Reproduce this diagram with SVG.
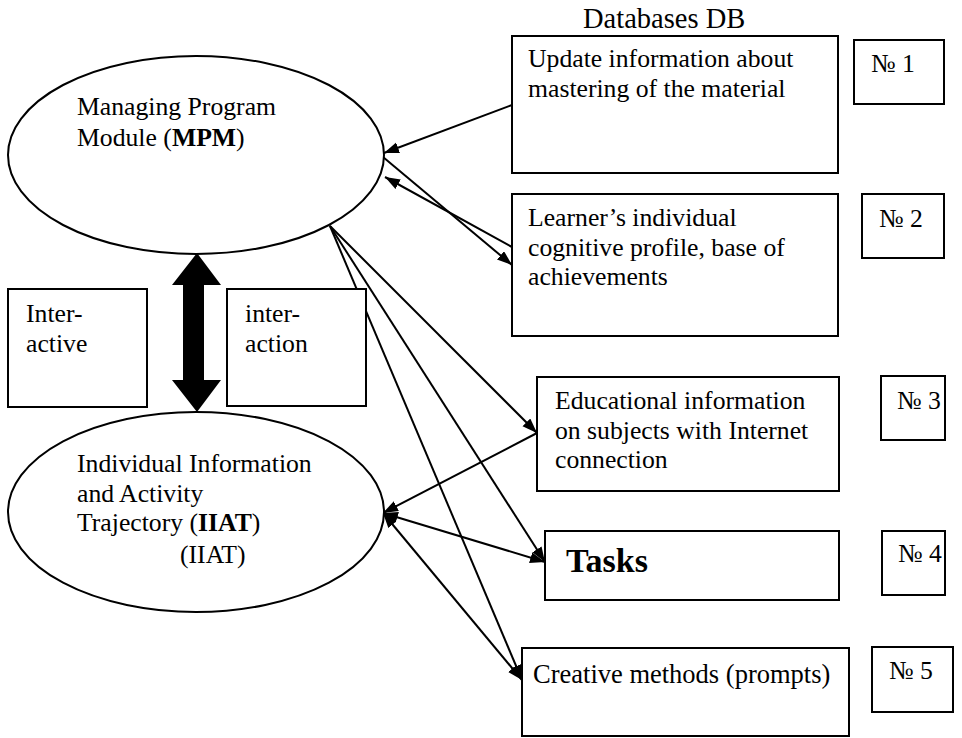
<svg xmlns="http://www.w3.org/2000/svg" width="962" height="738" viewBox="0 0 962 738">
<defs>
<style>
text{font-family:"Liberation Serif","Times New Roman",serif;font-size:25.7px;fill:#000}
.b{font-weight:bold}
.node{fill:#fff;stroke:#000;stroke-width:2}
.ln{stroke:#000;stroke-width:2;fill:none}
</style>
<marker id="ah" markerUnits="userSpaceOnUse" markerWidth="16" markerHeight="12" refX="15" refY="5.5" orient="auto-start-reverse">
<path d="M0,0 L15,5.5 L0,11 z" fill="#000"/>
</marker>
</defs>
<rect width="962" height="738" fill="#fff"/>
<g id="connectors">
<line class="ln" x1="512" y1="105" x2="384" y2="153" marker-end="url(#ah)"/>
<line class="ln" x1="383" y1="157" x2="512" y2="265" marker-end="url(#ah)"/>
<line class="ln" x1="512" y1="247" x2="385" y2="177" marker-end="url(#ah)"/>
<line class="ln" x1="330" y1="226" x2="537" y2="433" marker-end="url(#ah)"/>
<line class="ln" x1="330" y1="226" x2="545" y2="562" marker-end="url(#ah)"/>
<line class="ln" x1="330" y1="226" x2="522" y2="680" marker-end="url(#ah)"/>
<line class="ln" x1="537" y1="433" x2="383" y2="513" marker-end="url(#ah)"/>
<line class="ln" x1="383" y1="513" x2="545" y2="562" marker-start="url(#ah)" marker-end="url(#ah)"/>
<line class="ln" x1="383" y1="513" x2="522" y2="680" marker-start="url(#ah)" marker-end="url(#ah)"/>
<polygon id="interaction-arrow" points="197,253 221,285 204,285 204,380 221,380 197,412 172,380 183,380 183,285 172,285" fill="#000"/>
</g>
<g id="title"><text x="583" y="28" style="font-size:28.5px">Databases DB</text></g>
<g id="mpm">
<ellipse class="node" cx="196" cy="155" rx="188" ry="99"/>
<text x="77" y="115">Managing Program</text>
<text x="77" y="146">Module (<tspan class="b">MPM</tspan>)</text>
</g>
<g id="iiat">
<ellipse class="node" cx="196" cy="512" rx="188" ry="100"/>
<text x="77" y="472">Individual Information</text>
<text x="77" y="502">and Activity</text>
<text x="77" y="531">Trajectory (<tspan class="b">IIAT</tspan>)</text>
<text x="180" y="563">(IIAT)</text>
</g>
<g id="interactive">
<rect class="node" x="8" y="289" width="139" height="118"/>
<text x="26" y="322">Inter-</text>
<text x="26" y="352">active</text>
</g>
<g id="interaction">
<rect class="node" x="227" y="289" width="139" height="117"/>
<text x="245" y="322">inter-</text>
<text x="245" y="352">action</text>
</g>
<g id="db1">
<rect class="node" x="512" y="36" width="326" height="137"/>
<text x="528" y="67">Update information about</text>
<text x="528" y="97">mastering of the material</text>
</g>
<g id="n1"><rect class="node" x="854" y="40" width="90" height="64"/><text x="871" y="72">№ 1</text></g>
<g id="db2">
<rect class="node" x="512" y="194" width="326" height="142"/>
<text x="528" y="226">Learner’s individual</text>
<text x="528" y="256">cognitive profile, base of</text>
<text x="528" y="285">achievements</text>
</g>
<g id="n2"><rect class="node" x="862" y="194" width="82" height="64"/><text x="879" y="227">№ 2</text></g>
<g id="db3">
<rect class="node" x="537" y="377" width="302" height="114"/>
<text x="555" y="409">Educational information</text>
<text x="555" y="439">on subjects with Internet</text>
<text x="555" y="468">connection</text>
</g>
<g id="n3"><rect class="node" x="881" y="376" width="64" height="64"/><text x="897" y="409">№ 3</text></g>
<g id="db4">
<rect class="node" x="545" y="531" width="294" height="69"/>
<text x="566" y="572" class="b" style="font-size:34px">Tasks</text>
</g>
<g id="n4"><rect class="node" x="882" y="531" width="63" height="64"/><text x="898" y="562">№ 4</text></g>
<g id="db5">
<rect class="node" x="522" y="648" width="327" height="88"/>
<text x="533" y="683" style="font-size:26.5px">Creative methods (prompts)</text>
</g>
<g id="n5"><rect class="node" x="872" y="647" width="81" height="65"/><text x="889" y="679">№ 5</text></g>
</svg>
